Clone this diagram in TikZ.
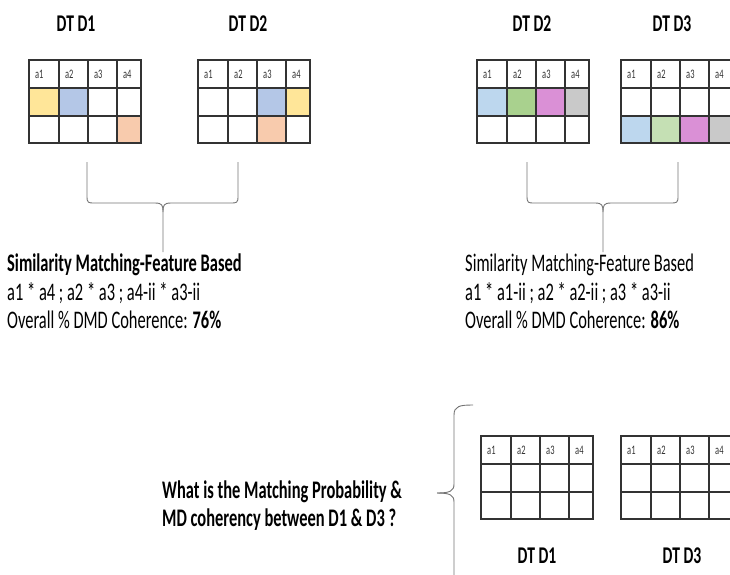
\documentclass[tikz,border=0pt]{standalone}
\usepackage{fontspec}
\setmainfont{Carlito}[FakeStretch=0.65]
\definecolor{cyel}{HTML}{FFE699}
\definecolor{cblu}{HTML}{B4C7E7}
\definecolor{cpea}{HTML}{F8CBAD}
\definecolor{clbl}{HTML}{BDD7EE}
\definecolor{cgrn}{HTML}{A9D18E}
\definecolor{clgr}{HTML}{C5E0B4}
\definecolor{cpnk}{HTML}{DA90D6}
\definecolor{cgry}{HTML}{C9C9C9}
\tikzset{
  gridline/.style={draw=black!80, line width=1.1pt},
  hdr/.style={anchor=west, font=\fontsize{13}{13}\selectfont, text=black!80, inner sep=0pt},
  ttl/.style={font=\bfseries\fontsize{24}{24}\selectfont, inner sep=0pt},
  body/.style={anchor=west, font=\fontsize{25.3}{27}\selectfont, inner sep=0pt},
  qtext/.style={anchor=west, font=\bfseries\fontsize{25.3}{27}\selectfont, inner sep=0pt},
  bracepath/.style={draw=black!55, line width=0.9pt},
}
% #1 name, #2 x, #3 y, #4 fills
\newcommand{\dtbl}[4]{%
  \begin{scope}[shift={(#2,#3)}]
    #4
    \foreach \xa/\n in {0/1,30/2,59/3,88/4} {\node[hdr] (#1-h\n) at (\xa+6,14) {a\n};}
    \draw[gridline] (0,0) rectangle (112,83);
    \foreach \x in {30,59,88} \draw[gridline] (\x,0) -- (\x,83);
    \foreach \y in {28,56} \draw[gridline, line width=1.6pt] (0,\y) -- (112,\y);
  \end{scope}}
\newcommand{\cf}[5]{\fill[#5] (#1,#3) rectangle (#2,#4);}
\begin{document}
\begin{tikzpicture}[x=1pt,y=-1pt]
\useasboundingbox (0,0) rectangle (730,574);
% titles
\node[ttl] (t1) at (76,24) {DT D1};
\node[ttl] (t2) at (248,24) {DT D2};
\node[ttl] (t3) at (532,24) {DT D2};
\node[ttl] (t4) at (672,24) {DT D3};
\node[ttl] (t5) at (537,556) {DT D1};
\node[ttl] (t6) at (682,556) {DT D3};
% tables
\dtbl{A}{29}{60}{\cf{0}{30}{28}{56}{cyel}\cf{30}{59}{28}{56}{cblu}\cf{88}{112}{56}{83}{cpea}}
\dtbl{B}{198}{60}{\cf{59}{88}{28}{56}{cblu}\cf{88}{112}{28}{56}{cyel}\cf{59}{88}{56}{83}{cpea}}
\dtbl{C}{477}{60}{\cf{0}{30}{28}{56}{clbl}\cf{30}{59}{28}{56}{cgrn}\cf{59}{88}{28}{56}{cpnk}\cf{88}{112}{28}{56}{cgry}}
\dtbl{D}{621}{60}{\cf{0}{30}{56}{83}{clbl}\cf{30}{59}{56}{83}{clgr}\cf{59}{88}{56}{83}{cpnk}\cf{88}{112}{56}{83}{cgry}}
\dtbl{E}{481}{436}{}
\dtbl{F}{621}{436}{}
% braces
\draw[bracepath] (87,162) -- (87,196) .. controls (87,203) and (88,203) .. (95,203) -- (155,203) .. controls (162,203) and (163,205) .. (163,212) -- (163,252);
\draw[bracepath] (238,162) -- (238,196) .. controls (238,203) and (237,203) .. (230,203) -- (171,203) .. controls (164,203) and (163,205) .. (163,212);
\draw[bracepath] (527,162) -- (527,196) .. controls (527,203) and (528,203) .. (535,203) -- (595,203) .. controls (602,203) and (603,205) .. (603,212) -- (603,252);
\draw[bracepath] (678,162) -- (678,196) .. controls (678,203) and (677,203) .. (670,203) -- (611,203) .. controls (604,203) and (603,205) .. (603,212);
\draw[bracepath] (473,405) .. controls (460,405) and (454,406) .. (454,415) -- (454,484) .. controls (454,491) and (450,493) .. (437,493);
\draw[bracepath] (437,493) .. controls (450,493) and (454,495) .. (454,502) -- (454,580);
% texts
\node[body] (l1) at (7,265) {\bfseries Similarity Matching-Feature Based};
\node[body] (l2) at (7,293) {a1 * a4 ; a2 * a3 ; a4-ii * a3-ii};
\node[body] (l3) at (7,320) {Overall \% DMD Coherence: \textbf{76\%}};
\node[body] (r1) at (465,265) {Similarity Matching-Feature Based};
\node[body] (r2) at (465,293) {a1 * a1-ii ; a2 * a2-ii ; a3 * a3-ii};
\node[body] (r3) at (465,320) {Overall \% DMD Coherence: \textbf{86\%}};
\node[qtext] (q1) at (162,492) {What is the Matching Probability \&};
\node[qtext] (q2) at (162,520) {MD coherency between D1 \& D3 ?};
\end{tikzpicture}
\end{document}
